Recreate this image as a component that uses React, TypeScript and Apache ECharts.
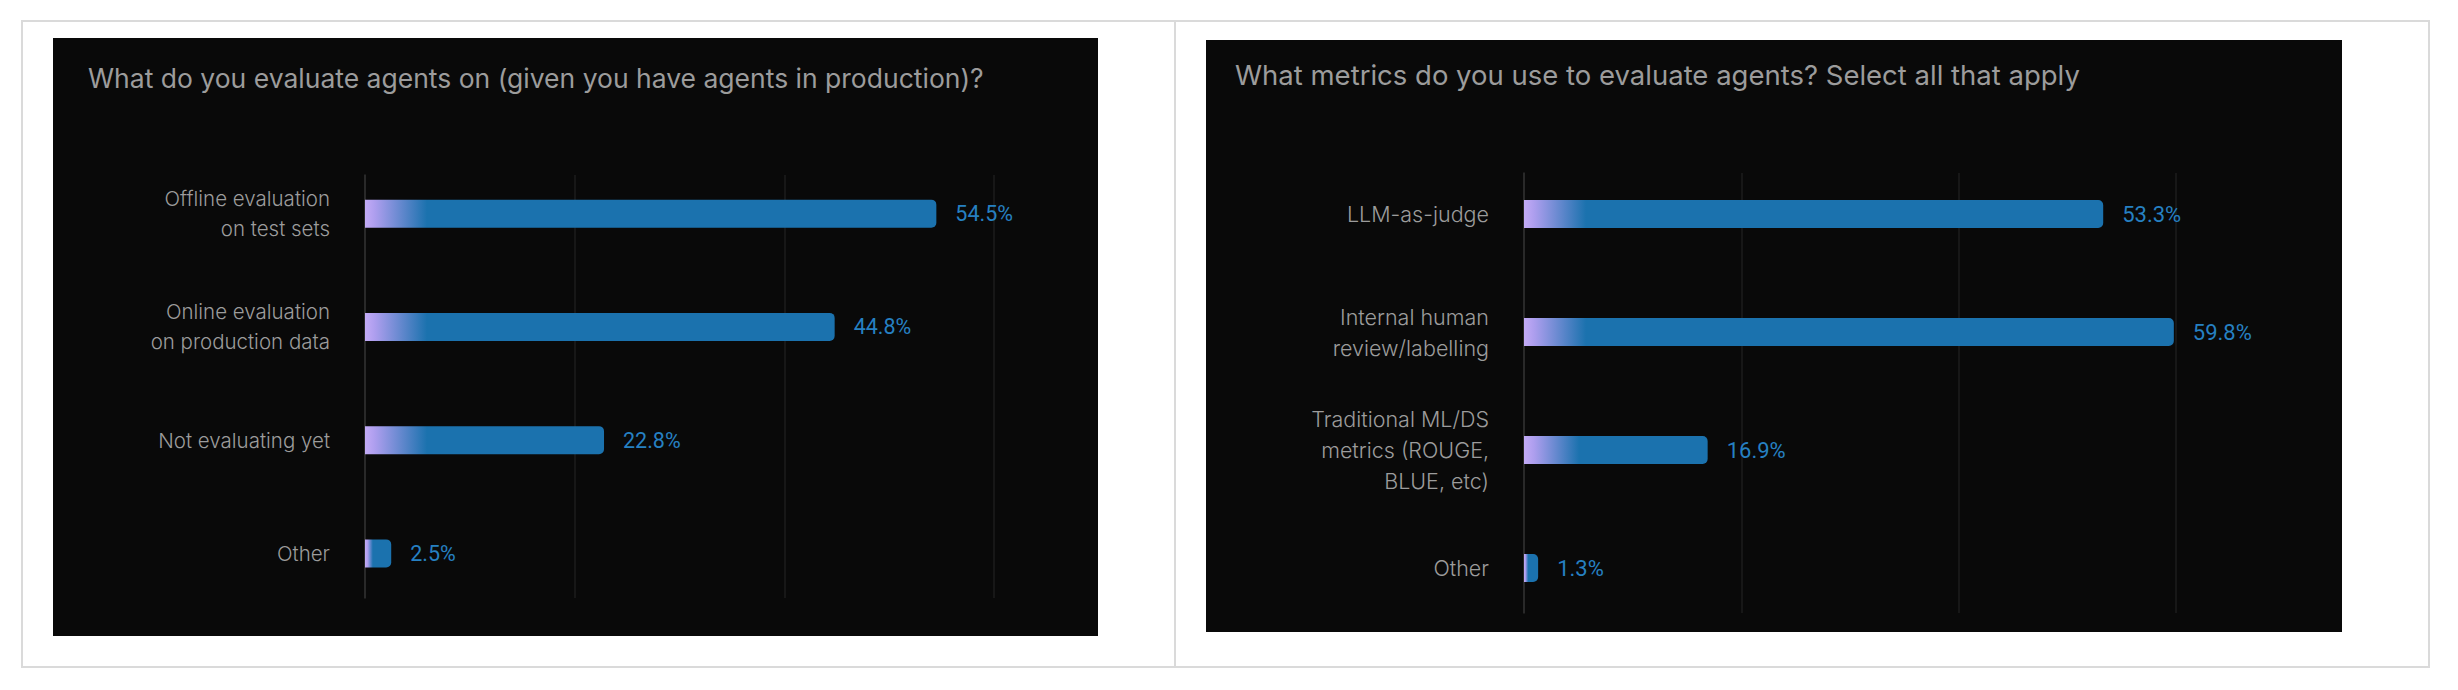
import React, { useEffect, useRef } from "react";
import * as echarts from "echarts";

const leftTitle = "What do you evaluate agents on (given you have agents in production)?";
const leftCategories = [
  "Offline evaluation\non test sets",
  "Online evaluation\non production data",
  "Not evaluating yet",
  "Other",
];
const leftValues = [54.5, 44.8, 22.8, 2.5];

const rightTitle = "What metrics do you use to evaluate agents? Select all that apply";
const rightCategories = [
  "LLM-as-judge",
  "Internal human\nreview/labelling",
  "Traditional ML/DS\nmetrics (ROUGE,\nBLUE, etc)",
  "Other",
];
const rightValues = [53.3, 59.8, 16.9, 1.3];

const axisMax = 60;
const axisInterval = 20;

const BLUE = "#1b72ae";
const LAVENDER = "#c3abf6";
const LABEL_FONT = "Inter";

function barColor(len: number) {
  const a = Math.min(10 / len, 0.1);
  const b = Math.min(62 / len, 0.3);
  return {
    type: "linear",
    x: 0,
    y: 0,
    x2: 1,
    y2: 0,
    colorStops: [
      { offset: 0, color: LAVENDER },
      { offset: a, color: "#ad9eee" },
      { offset: b, color: BLUE },
      { offset: 1, color: BLUE },
    ],
  };
}

function buildChart(
  values: number[],
  categories: string[],
  gridLeft: number,
  gridWidth: number,
  linesTop: number,
  linesHeight: number,
  barsTop: number,
  barsHeight: number,
  idx: number,
  labelSize: number,
  labelLine: number,
  valueSize: number
) {
  const grids = [
    { left: gridLeft, top: linesTop, width: gridWidth, height: linesHeight, outerBoundsMode: "none", containLabel: false },
    { left: gridLeft, top: barsTop, width: gridWidth, height: barsHeight, outerBoundsMode: "none", containLabel: false },
  ];
  const xAxes = [
    {
      type: "value",
      gridIndex: idx,
      min: 0,
      max: axisMax,
      interval: axisInterval,
      axisLabel: { show: false },
      axisLine: { show: false },
      axisTick: { show: false },
      splitLine: { show: true, lineStyle: { color: "#1c1c1c", width: 1.5 } },
    },
    {
      type: "value",
      gridIndex: idx + 1,
      min: 0,
      max: axisMax,
      show: false,
      splitLine: { show: false },
    },
  ];
  const yAxes = [
    {
      type: "value",
      gridIndex: idx,
      min: 0,
      max: 1,
      axisLabel: { show: false },
      axisTick: { show: false },
      splitLine: { show: false },
      axisLine: { show: true, lineStyle: { color: "#303030", width: 1.5 } },
    },
    {
      type: "category",
      gridIndex: idx + 1,
      data: categories,
      inverse: true,
      axisLine: { show: false },
      axisTick: { show: false },
      splitLine: { show: false },
      axisLabel: {
        margin: 35,
        color: "#9c9c9c",
        fontSize: labelSize,
        lineHeight: labelLine,
        fontFamily: LABEL_FONT,
        fontWeight: 300,
        align: "right",
      },
    },
  ];
  const series = {
    type: "bar",
    xAxisIndex: idx + 1,
    yAxisIndex: idx + 1,
    barWidth: 28,
    data: values.map((v) => ({
      value: v,
      itemStyle: {
        color: barColor((v / axisMax) * gridWidth),
        borderRadius: [0, 5, 5, 0],
      },
    })),
    label: {
      show: true,
      position: "right",
      distance: 19,
      color: "#2680c2",
      fontSize: valueSize,
      fontWeight: 400,
      fontFamily: "Roboto",
      formatter: (p: any) => p.value.toFixed(1) + "%",
    },
  };
  return { grids, xAxes, yAxes, series };
}

export default function App() {
  const ref = useRef<HTMLDivElement>(null);
  useEffect(() => {
    if (!ref.current) return;
    const chart = echarts.init(ref.current, null, { renderer: "svg" });
    const left = buildChart(leftValues, leftCategories, 365, 629, 175, 423, 157, 453, 0, 20.5, 30, 21.5);
    const right = buildChart(rightValues, rightCategories, 1524, 652, 173, 440, 155, 472, 2, 21.5, 31, 22);
    const titleStyle = {
      color: "#9c9c9c",
      fontWeight: 400,
      fontFamily: "Inter",
    };
    chart.setOption({
      animation: false,
      backgroundColor: "#ffffff",
      graphic: [
        { type: "rect", z: -10, shape: { x: 22, y: 21, width: 2407, height: 646 }, style: { fill: "none", stroke: "#dadada", lineWidth: 2 } },
        { type: "line", z: -10, shape: { x1: 1175, y1: 21, x2: 1175, y2: 667 }, style: { stroke: "#dadada", lineWidth: 2 } },
        { type: "rect", z: -10, shape: { x: 53, y: 38, width: 1045, height: 598 }, style: { fill: "#090909" } },
        { type: "rect", z: -10, shape: { x: 1206, y: 40, width: 1136, height: 592 }, style: { fill: "#090909" } },
      ],
      title: [
        { text: leftTitle, left: 88, top: 64, padding: 0, textStyle: { ...titleStyle, fontSize: 26.5 } },
        { text: rightTitle, left: 1235, top: 61, padding: 0, textStyle: { ...titleStyle, fontSize: 27.5 } },
      ],
      grid: [...left.grids, ...right.grids],
      xAxis: [...left.xAxes, ...right.xAxes],
      yAxis: [...left.yAxes, ...right.yAxes],
      series: [left.series, right.series],
    });
    return () => chart.dispose();
  }, []);
  return (
    <div
      ref={ref}
      style={{ position: "absolute", left: 0, top: 0, width: 2458, height: 690 }}
    />
  );
}
